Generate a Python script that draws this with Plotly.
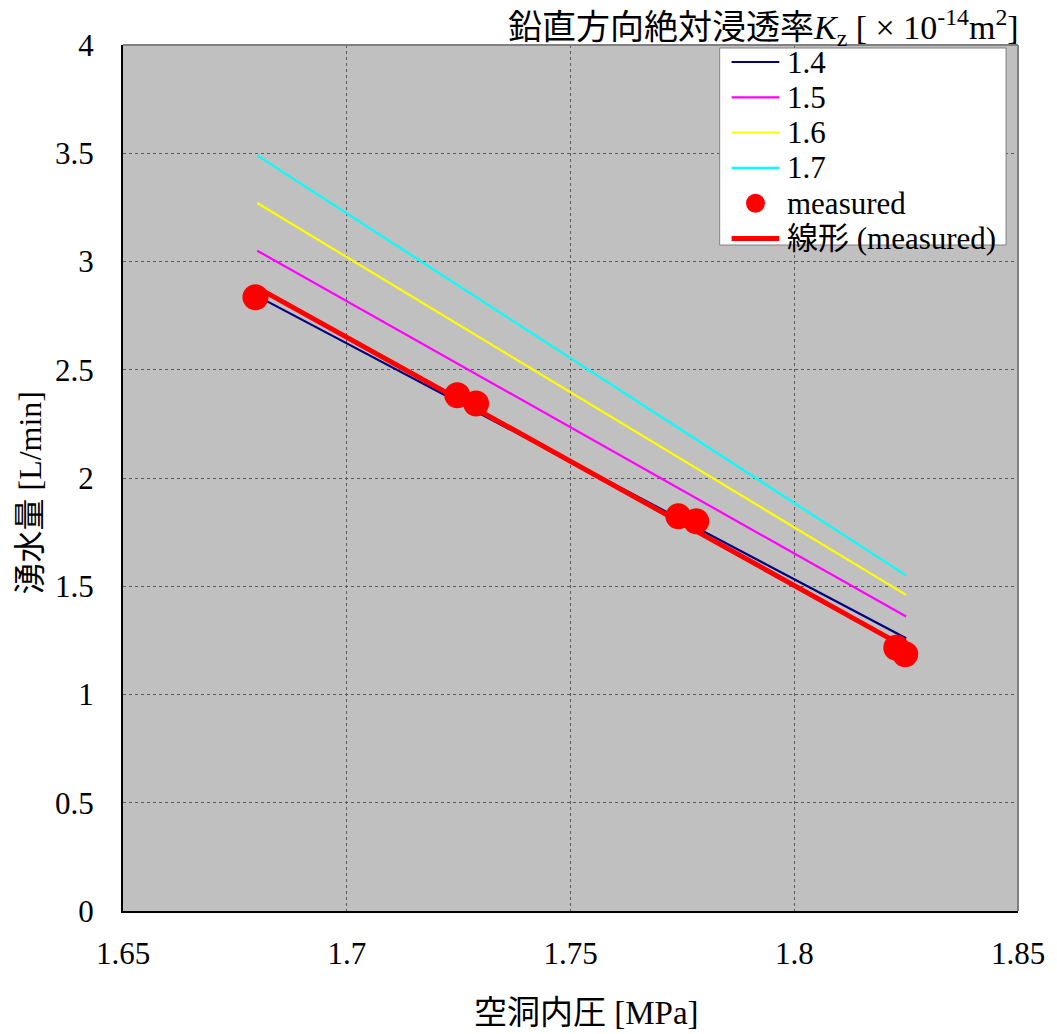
import numpy as np
import plotly.graph_objects as go

# Model lines: inflow vs cavity pressure for several vertical permeabilities
pressure_range = [1.68, 1.825]
kz_labels = ["1.4", "1.5", "1.6", "1.7"]
kz_colors = ["#000080", "#FF00FF", "#FFFF00", "#00FFFF"]
flow_kz14 = [2.84, 1.26]
flow_kz15 = [3.05, 1.36]
flow_kz16 = [3.27, 1.46]
flow_kz17 = [3.49, 1.55]

# Measured data
measured_pressure = [1.6796, 1.7247, 1.7289, 1.7741, 1.7781, 1.8228, 1.8248]
measured_flow = [2.835, 2.382, 2.344, 1.823, 1.800, 1.216, 1.186]

x_ticks = [1.65, 1.7, 1.75, 1.8, 1.85]
x_tick_text = ["1.65", "1.7", "1.75", "1.8", "1.85"]
y_ticks = [0, 0.5, 1, 1.5, 2, 2.5, 3, 3.5, 4]
y_tick_text = ["0", "0.5", "1", "1.5", "2", "2.5", "3", "3.5", "4"]

FONT = "Liberation Serif, Times New Roman, Noto Sans CJK JP, serif"
FS = 31
RED = "#FF0000"

W, H = 1057, 1034
ML, MR, MT, MB = 123, 34, 45, 123
PW, PH = W - ML - MR, H - MT - MB


def px(x):
    """Horizontal pixel position -> paper fraction."""
    return (x - ML) / PW


def py(y):
    """Vertical pixel position (from top) -> paper fraction."""
    return (H - MB - y) / PH


fig = go.Figure()

model_flows = [flow_kz14, flow_kz15, flow_kz16, flow_kz17]
for label, color, flow in zip(kz_labels, kz_colors, model_flows):
    fig.add_trace(go.Scatter(
        x=pressure_range, y=flow, mode="lines", name=label,
        line=dict(color=color, width=2.2),
    ))

fig.add_trace(go.Scatter(
    x=measured_pressure, y=measured_flow, mode="markers", name="measured",
    marker=dict(color=RED, size=26, line=dict(width=0)),
))

# Linear fit of the measured points
slope, intercept = np.polyfit(measured_pressure, measured_flow, 1)
fit_x = [min(measured_pressure), max(measured_pressure)]
fit_y = [slope * v + intercept for v in fit_x]
fig.add_trace(go.Scatter(
    x=fit_x, y=fit_y, mode="lines", name="線形 (measured)",
    line=dict(color=RED, width=5),
))

# Compact legend box drawn with shapes and annotations
legend_names = kz_labels + ["measured", "線形 (measured)"]
legend_kinds = ["line"] * 4 + ["marker", "thickline"]
legend_colors = kz_colors + [RED, RED]
box_left, box_right, box_top, box_bottom = 723, 1011, 48, 245
row0, row_step = 62, 35.3
sample_x0, sample_x1, text_x = 735, 783, 789

shapes = [
    dict(type="rect", xref="paper", yref="paper",
         x0=px(box_left), x1=px(box_right), y0=py(box_bottom), y1=py(box_top),
         fillcolor="white", line=dict(color="#808080", width=1), layer="above"),
    # grey frame on the top and right of the plotting area
    dict(type="line", xref="paper", yref="paper", x0=0, x1=1, y0=1, y1=1,
         line=dict(color="#808080", width=2), layer="above"),
    dict(type="line", xref="paper", yref="paper", x0=1, x1=1, y0=0, y1=1,
         line=dict(color="#808080", width=2), layer="above"),
]
annotations = []
for i, (name, kind, color) in enumerate(zip(legend_names, legend_kinds, legend_colors)):
    yc = row0 + i * row_step
    if kind == "marker":
        r = 9.5
        shapes.append(dict(type="circle", xref="paper", yref="paper",
                           x0=px(759 - r), x1=px(759 + r), y0=py(yc + r), y1=py(yc - r),
                           fillcolor=color, line=dict(width=0), layer="above"))
    else:
        shapes.append(dict(type="line", xref="paper", yref="paper",
                           x0=px(sample_x0), x1=px(sample_x1), y0=py(yc), y1=py(yc),
                           line=dict(color=color, width=5 if kind == "thickline" else 2.2),
                           layer="above"))
    annotations.append(dict(text=name, xref="paper", yref="paper",
                            x=px(text_x), y=py(yc), xanchor="left", yanchor="middle",
                            showarrow=False, font=dict(family=FONT, size=FS)))

# Legend heading
annotations.append(dict(
    text="鉛直方向絶対浸透率<i>K</i><sub>z</sub> [ × 10<sup>-14</sup>m<sup>2</sup>]",
    xref="paper", yref="paper", x=px(1026), y=1.0, xanchor="right", yanchor="bottom",
    showarrow=False, font=dict(family=FONT, size=34), yshift=-8,
))
# Axis titles
annotations.append(dict(
    text="空洞内圧 [MPa]", xref="paper", yref="paper",
    x=px(589), y=py(1013), xanchor="center", yanchor="middle",
    showarrow=False, font=dict(family=FONT, size=33),
))
annotations.append(dict(
    text="湧水量 [L/min]", xref="paper", yref="paper", textangle=-90,
    x=px(29), y=py(493), xanchor="center", yanchor="middle",
    showarrow=False, font=dict(family=FONT, size=32),
))

fig.update_layout(
    width=W, height=H,
    margin=dict(l=ML, r=MR, t=MT, b=MB),
    paper_bgcolor="white",
    plot_bgcolor="#C0C0C0",
    font=dict(family=FONT, size=FS, color="black"),
    showlegend=False,
    shapes=shapes,
    annotations=annotations,
)

fig.update_xaxes(
    range=[1.65, 1.85], tickvals=x_ticks, ticktext=x_tick_text,
    showgrid=True, gridcolor="#5a5a5a", griddash="dot", gridwidth=1,
    showline=True, linecolor="black", linewidth=2, mirror=False,
    ticks="", zeroline=False, ticklabelstandoff=14,
)
fig.update_yaxes(
    range=[0, 4], tickvals=y_ticks, ticktext=y_tick_text,
    showgrid=True, gridcolor="#5a5a5a", griddash="dot", gridwidth=1,
    showline=True, linecolor="black", linewidth=2, mirror=False,
    ticks="", zeroline=False, ticklabelstandoff=21,
)

fig.write_html("out.html")
